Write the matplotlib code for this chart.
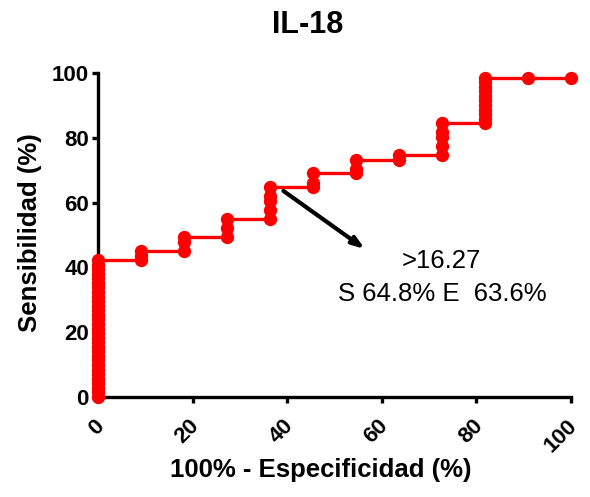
import matplotlib
matplotlib.use("Agg")
import matplotlib.pyplot as plt
import matplotlib.transforms as mtransforms
import numpy as np

plt.rcParams['font.family'] = ['Liberation Sans', 'DejaVu Sans']

# ROC curve for IL-18: 11 controls, 71 cases
n_controls = 11
n_cases = 71
# number of false positives (controls) and true positives (cases) at each cut-off
false_pos = [0] * 31 + [1, 1, 1] + [2, 2, 2] + [3, 3, 3] + [4, 4, 4, 4, 4] + \
            [5, 5, 5] + [6, 6, 6] + [7, 7] + [8, 8, 8, 8, 8] + [9] * 11 + [10, 11]
true_pos = list(range(0, 31)) + [30, 31, 32] + [32, 34, 35] + [35, 37, 39] + \
           [39, 41, 43, 44, 46] + [46, 47, 49] + [49, 50, 52] + [52, 53] + \
           [53, 55, 57, 58, 60] + list(range(60, 71)) + [70, 70]

fpr = 100.0 * np.array(false_pos) / n_controls
sens = 100.0 * np.array(true_pos) / n_cases

ticks = [0, 20, 40, 60, 80, 100]
cutoff_value = ">16.27"
cutoff_stats = "S 64.8% E  63.6%"

W, H = 590, 497
fig = plt.figure(figsize=(W / 100, H / 100), dpi=100)
ax = fig.add_axes([98 / W, (H - 397) / H, (571 - 98) / W, (397 - 73) / H])

ax.plot(fpr, sens, color='#ff0000', lw=2.4, marker='o', ms=9.6,
        markeredgewidth=0, clip_on=False, zorder=3)

ax.set_xlim(0, 100)
ax.set_ylim(0, 100)
ax.set_xticks(ticks)
ax.set_yticks(ticks)
for s in ['top', 'right']:
    ax.spines[s].set_visible(False)
for s in ['left', 'bottom']:
    ax.spines[s].set_linewidth(2.4)
ax.tick_params(direction='out', length=4.5, width=2.4, labelsize=16, pad=2)
for lab in ax.get_yticklabels():
    lab.set_fontweight('bold')
offset = mtransforms.ScaledTranslation(0.03, -0.17, fig.dpi_scale_trans)
for lab in ax.get_xticklabels():
    lab.set_fontweight('bold')
    lab.set_rotation(45)
    lab.set_ha('right')
    lab.set_va('center')
    lab.set_rotation_mode('anchor')
    lab.set_transform(lab.get_transform() + offset)

# cut-off annotation
ax.annotate('', xy=(56.4, 45.7), xytext=(39.2, 63.6),
            arrowprops=dict(arrowstyle='-|>,head_length=0.7,head_width=0.25',
                            color='black', lw=3.0, shrinkA=0, shrinkB=0))
ax.text(72.7, 42.1, cutoff_value, ha='center', va='center', fontsize=18.5)
ax.text(72.7, 31.9, cutoff_stats, ha='center', va='center', fontsize=18.5)

fig.text(308 / W, 1 - 25 / H, 'IL-18', ha='center', va='center',
         fontsize=22, fontweight='bold')
fig.text(321 / W, 1 - 470 / H, '100% - Especificidad (%)', ha='center',
         va='center', fontsize=18.5, fontweight='bold')
fig.text(30 / W, 1 - 233 / H, 'Sensibilidad (%)', ha='center', va='center',
         rotation=90, fontsize=18.5, fontweight='bold')

fig.savefig('out.png', dpi=100)
